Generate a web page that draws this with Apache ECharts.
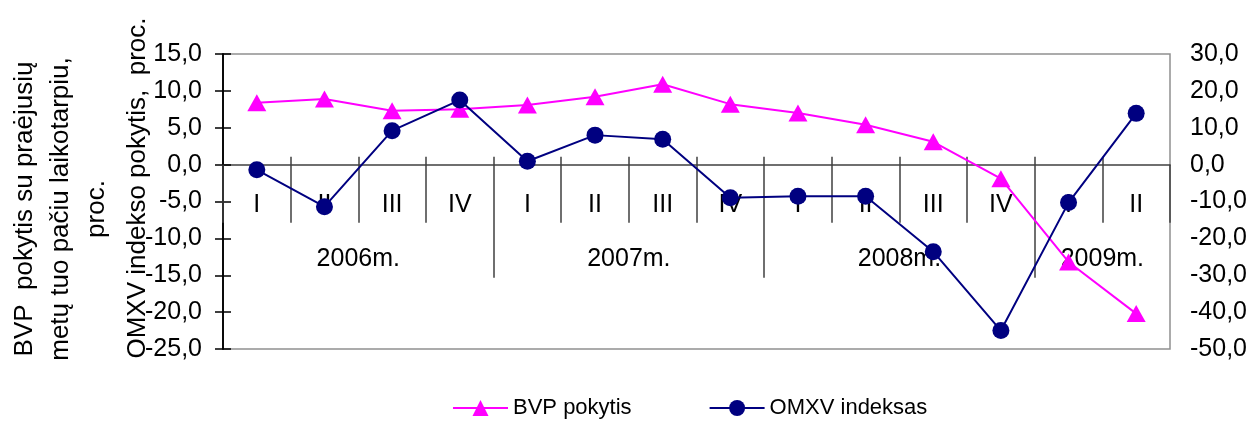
<!DOCTYPE html>
<html>
<head>
<meta charset="utf-8">
<script src="https://cdn.jsdelivr.net/npm/echarts@6/dist/echarts.min.js"></script>
<style>
html,body{margin:0;padding:0;background:#fff;}
#chart{width:1252px;height:427px;}
</style>
</head>
<body>
<div id="chart"></div>
<script>
const quarterLabels = ['I','II','III','IV','I','II','III','IV','I','II','III','IV','I','II'];
const yearLabels = ['2006m.','2007m.','2008m.','2009m.'];
const yearCenters = [2, 6, 10, 13];
const yearBounds = [4, 8, 12];
const quarterBounds = [1,2,3,4,5,6,7,8,9,10,11,12,13];
const leftTicks = {min: -25, max: 15, interval: 5};
const rightTicks = {min: -50, max: 30, interval: 10};
const bvp = [8.4, 8.9, 7.3, 7.5, 8.1, 9.2, 10.9, 8.2, 7.0, 5.4, 3.1, -1.9, -13.2, -20.2];
const omxv = [-1.4, -11.4, 9.2, 17.5, 0.9, 8.0, 6.9, -9.0, -8.6, -8.6, -23.6, -45.0, -10.3, 13.9];
const seriesNames = ['BVP pokytis', 'OMXV indeksas'];
const leftTitle = 'BVP  pokytis su praėjusių\nmetų tuo pačiu laikotarpiu,\nproc.';
const rightTitle = 'OMXV indekso pokytis,  proc.';

const FONT = 'Liberation Sans, Arial, sans-serif';
const fmt = v => v.toFixed(1).replace('.', ',');
const darkLine = {color: '#404040', width: 1.5};
const blackLine = {color: '#000', width: 1.5};

const W = 1252, H = 427;
const grid = {left: 223, right: 82, top: 54, bottom: 78};
const gridH = H - grid.top - grid.bottom;
// distance of the value-axis zero above the grid bottom
const zeroOffset = gridH * (0 - leftTicks.min) / (leftTicks.max - leftTicks.min);

const chart = echarts.init(document.getElementById('chart'), null, {renderer: 'canvas', width: W, height: H});
chart.setOption({
  animation: false,
  backgroundColor: '#fff',
  grid: Object.assign({show: true, borderColor: '#909090', borderWidth: 1.5, backgroundColor: 'transparent', containLabel: false, outerBoundsMode: 'none'}, grid),
  legend: {
    data: seriesNames,
    left: 447, top: 392,
    itemWidth: 55, itemHeight: 20, itemGap: 77,
    textStyle: {fontSize: 22, color: '#000', fontFamily: FONT}
  },
  xAxis: [
    {
      type: 'category', data: quarterLabels, position: 'bottom', boundaryGap: true, offset: -zeroOffset,
      axisLine: {show: true, onZero: false, lineStyle: darkLine},
      axisTick: {show: true, interval: 0, length: 58, lineStyle: darkLine},
      axisLabel: {interval: 0, margin: 28, fontSize: 25, color: '#000', fontFamily: FONT},
      splitLine: {show: false}
    },
    {
      type: 'value', min: 0, max: 14, interval: 1, position: 'bottom', offset: -zeroOffset,
      axisLine: {show: false, onZero: false},
      axisTick: {show: true, customValues: yearBounds, length: 113, lineStyle: darkLine},
      axisLabel: {show: true, customValues: yearCenters, margin: 82, fontSize: 25, color: '#000', fontFamily: FONT,
        formatter: v => yearLabels[yearCenters.indexOf(v)] || ''},
      splitLine: {show: false}
    },
    {
      type: 'value', min: 0, max: 14, interval: 1, position: 'bottom', offset: -zeroOffset,
      axisLine: {show: false, onZero: false},
      axisTick: {show: true, inside: true, customValues: quarterBounds, length: 8, lineStyle: darkLine},
      axisLabel: {show: false},
      splitLine: {show: false}
    }
  ],
  yAxis: [
    {
      type: 'value', position: 'left', min: leftTicks.min, max: leftTicks.max, interval: leftTicks.interval,
      axisLine: {show: true, lineStyle: blackLine},
      axisTick: {show: true, length: 8, lineStyle: blackLine},
      axisLabel: {formatter: fmt, margin: 21, fontSize: 25, color: '#000', fontFamily: FONT},
      splitLine: {show: false}
    },
    {
      type: 'value', position: 'right', min: rightTicks.min, max: rightTicks.max, interval: rightTicks.interval,
      axisLine: {show: true, lineStyle: blackLine},
      axisTick: {show: true, length: 8, lineStyle: blackLine},
      axisLabel: {formatter: fmt, margin: 20, fontSize: 25, color: '#000', fontFamily: FONT},
      splitLine: {show: false}
    }
  ],
  graphic: [
    {type: 'text', rotation: Math.PI / 2, x: 61, y: 209,
      style: {text: leftTitle, font: '26px ' + FONT, align: 'center', verticalAlign: 'middle', lineHeight: 36, fill: '#000'}},
    {type: 'text', rotation: Math.PI / 2, x: 138, y: 188,
      style: {text: rightTitle, font: '26px ' + FONT, align: 'center', verticalAlign: 'middle', fill: '#000'}}
  ],
  series: [
    {
      name: seriesNames[0], type: 'line', xAxisIndex: 0, yAxisIndex: 0, data: bvp,
      symbol: 'triangle', symbolSize: [19, 17], showAllSymbol: true,
      itemStyle: {color: '#FF00FF'}, lineStyle: {color: '#FF00FF', width: 2}
    },
    {
      name: seriesNames[1], type: 'line', xAxisIndex: 0, yAxisIndex: 1, data: omxv,
      symbol: 'circle', symbolSize: 17, showAllSymbol: true,
      itemStyle: {color: '#000080'}, lineStyle: {color: '#000080', width: 2}
    }
  ]
});
</script>
</body>
</html>
